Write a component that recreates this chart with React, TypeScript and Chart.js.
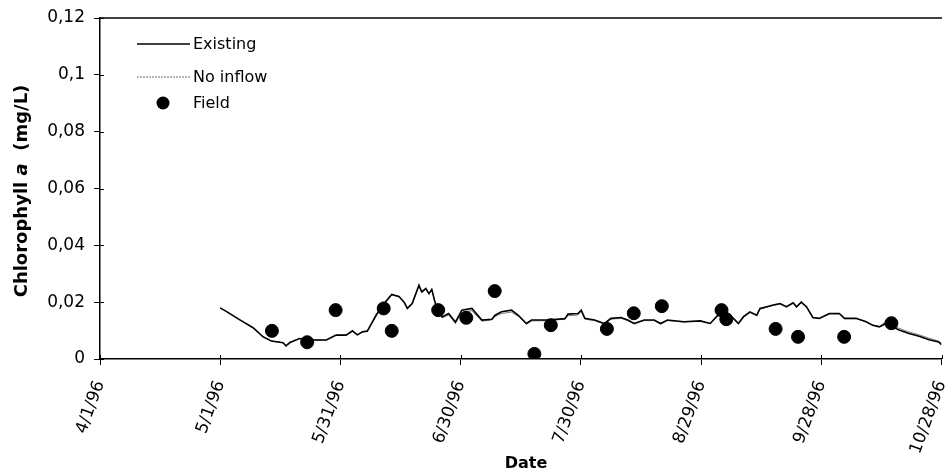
import { useEffect, useRef } from 'react';
import { Chart, registerables } from 'chart.js';

Chart.register(...registerables);

// ---- data ----
const xTickLabels = ['4/1/96', '5/1/96', '5/31/96', '6/30/96', '7/30/96', '8/29/96', '9/28/96', '10/28/96'];
const yTickLabels = ['0', '0,02', '0,04', '0,06', '0,08', '0,1', '0,12'];

// days since 4/1/96
const lineDays = [
  30, 31.7, 35, 38.2, 40.7, 42.8, 45.7, 46.4, 47.4, 49.8, 53.1, 56.5, 58.9, 61.4, 63, 64.2,
  65.5, 66.7, 68.9, 70.9, 72.8, 74.6, 75.9, 76.7, 77.9, 79.6, 80.3, 81.3, 82.1, 82.8, 83.7,
  85.4, 87, 88.7, 90.3, 92.8, 95.3, 97.8, 98.6, 100.2, 102.7, 104.4, 106.4, 107.7, 111.8,
  116, 116.8, 119.3, 120.1, 121, 123.4, 125.9, 127.5, 130, 131.7, 133.3, 135.8, 138.3,
  139.9, 141.6, 145.7, 149.8, 152.3, 153.9, 155.6, 158.1, 159.3, 160.6, 162.2, 163.9,
  164.7, 166.4, 168, 169.7, 171.3, 173, 173.8, 175, 176.3, 177.9, 179.5, 182, 184.5,
  185.8, 188.7, 191.2, 192.8, 194.5, 196.1, 197.8, 199.4, 201.9, 204.4, 206.9, 209.3, 210,
];

const existing = [
  0.018, 0.0166, 0.0137, 0.011, 0.0078, 0.0063, 0.0057, 0.0046, 0.0058, 0.0072, 0.0067, 0.0067, 0.0084, 0.0084, 0.0099, 0.0085,
  0.0096, 0.0098, 0.0154, 0.0195, 0.0227, 0.022, 0.02, 0.0178, 0.0195, 0.026, 0.0236, 0.0248, 0.023, 0.0245, 0.0195,
  0.0148, 0.016, 0.013, 0.0172, 0.0178, 0.0137, 0.014, 0.0154, 0.0166, 0.0172, 0.0154, 0.0125, 0.0137, 0.0137,
  0.0142, 0.0158, 0.016, 0.0172, 0.0143, 0.0137, 0.0125, 0.0143, 0.0146, 0.0137, 0.0125, 0.0137, 0.0137,
  0.0125, 0.0137, 0.0131, 0.0134, 0.0125, 0.015, 0.0166, 0.0143, 0.0125, 0.0149, 0.0166, 0.0154,
  0.0178, 0.0184, 0.019, 0.0195, 0.0184, 0.0198, 0.0184, 0.02, 0.0184, 0.0146, 0.0143, 0.016, 0.016,
  0.0143, 0.0143, 0.0131, 0.0119, 0.0113, 0.0125, 0.0113, 0.0102, 0.009, 0.008, 0.0068, 0.006, 0.005,
];

const noInflow = [
  0.018, 0.0166, 0.0137, 0.011, 0.0078, 0.0063, 0.0057, 0.0047, 0.0058, 0.0072, 0.0067, 0.0067, 0.0083, 0.0084, 0.0097, 0.0085,
  0.0095, 0.0098, 0.0152, 0.0193, 0.0225, 0.0219, 0.0199, 0.0177, 0.0193, 0.0257, 0.0234, 0.0246, 0.0228, 0.0243, 0.0193,
  0.0145, 0.0155, 0.0125, 0.0165, 0.017, 0.0133, 0.0138, 0.015, 0.016, 0.0165, 0.015, 0.0122, 0.0134, 0.0135,
  0.014, 0.0152, 0.0155, 0.0168, 0.014, 0.0135, 0.0123, 0.014, 0.0143, 0.0135, 0.0123, 0.0135, 0.0135,
  0.0123, 0.0135, 0.013, 0.0133, 0.0124, 0.0148, 0.0163, 0.0141, 0.0124, 0.0147, 0.0163, 0.0152,
  0.0175, 0.0182, 0.0188, 0.0193, 0.0182, 0.0196, 0.0182, 0.0198, 0.0182, 0.0145, 0.0142, 0.0158, 0.0158,
  0.0142, 0.0142, 0.0131, 0.012, 0.0115, 0.013, 0.0118, 0.0108, 0.0095, 0.0085, 0.0073, 0.0063, 0.0055,
];

const fieldDays = [42.9, 51.7, 58.8, 70.8, 72.8, 84.4, 91.4, 98.5, 108.4, 112.5, 126.5, 133.2, 140.2, 155.1, 156.3, 168.6, 174.2, 185.7, 197.5];
const fieldValues = [0.0099, 0.0059, 0.0172, 0.0178, 0.0099, 0.0172, 0.0145, 0.0239, 0.0018, 0.0119, 0.0106, 0.0161, 0.0186, 0.0172, 0.014, 0.0106, 0.0078, 0.0078, 0.0126];

const seriesNames = ['Existing', 'No inflow', 'Field'];

const FONT = '"DejaVu Sans", sans-serif';

export default function App() {
  const ref = useRef<HTMLCanvasElement>(null);

  useEffect(() => {
    const canvas = ref.current;
    if (!canvas) return;

    const decor = {
      id: 'decor',
      afterDraw(chart: any) {
        const { ctx, chartArea: a, scales } = chart;
        ctx.save();
        ctx.strokeStyle = '#000';
        // top border
        ctx.lineWidth = 1.5;
        ctx.beginPath();
        ctx.moveTo(a.left, a.top);
        ctx.lineTo(a.right + 0.5, a.top);
        ctx.stroke();
        // inner tick marks
        ctx.lineWidth = 1;
        const xs = scales.x;
        xs.ticks.forEach((t: any) => {
          const px = Math.round(xs.getPixelForValue(t.value)) + 0.5;
          ctx.beginPath();
          ctx.moveTo(px, a.bottom);
          ctx.lineTo(px, a.bottom - 4);
          ctx.stroke();
        });
        const ys = scales.y;
        ys.ticks.forEach((t: any) => {
          const py = Math.round(ys.getPixelForValue(t.value)) + 0.5;
          ctx.beginPath();
          ctx.moveTo(a.left, py);
          ctx.lineTo(a.left + 4, py);
          ctx.stroke();
        });

        // legend
        const lx0 = 137, lx1 = 190, tx = 193;
        const rows = [44, 77, 103];
        ctx.font = `16px ${FONT}`;
        ctx.fillStyle = '#000';
        ctx.textBaseline = 'middle';
        ctx.textAlign = 'left';
        ctx.strokeStyle = '#000';
        ctx.lineWidth = 1.6;
        ctx.beginPath();
        ctx.moveTo(lx0, rows[0]);
        ctx.lineTo(lx1, rows[0]);
        ctx.stroke();
        ctx.strokeStyle = '#6e6e6e';
        ctx.lineWidth = 1.2;
        ctx.setLineDash([2, 1]);
        ctx.beginPath();
        ctx.moveTo(lx0, rows[1]);
        ctx.lineTo(lx1, rows[1]);
        ctx.stroke();
        ctx.setLineDash([]);
        ctx.beginPath();
        ctx.arc(163, rows[2], 6.5, 0, Math.PI * 2);
        ctx.fill();
        seriesNames.forEach((n, i) => ctx.fillText(n, tx, rows[i] + 1));

        // x title
        ctx.font = `bold 16px ${FONT}`;
        ctx.textAlign = 'center';
        ctx.fillText('Date', 526, 464);

        // y title
        ctx.translate(22, 191);
        ctx.rotate(-Math.PI / 2);
        const parts = [
          { t: 'Chlorophyll ', f: `bold 18px ${FONT}` },
          { t: 'a', f: `italic bold 18px ${FONT}` },
          { t: '  (mg/L)', f: `bold 18px ${FONT}` },
        ];
        let total = 0;
        parts.forEach((p) => { ctx.font = p.f; total += ctx.measureText(p.t).width; });
        let x = -total / 2;
        ctx.textAlign = 'left';
        parts.forEach((p) => {
          ctx.font = p.f;
          ctx.fillText(p.t, x, 0);
          x += ctx.measureText(p.t).width;
        });
        ctx.restore();
      },
    };

    const chart = new Chart(canvas, {
      type: 'scatter',
      data: {
        datasets: [
          {
            label: seriesNames[2],
            data: fieldDays.map((d, i) => ({ x: d, y: fieldValues[i] })),
            backgroundColor: '#000',
            borderColor: '#000',
            pointRadius: 6.5,
            showLine: false,
            order: 0,
          },
          {
            label: seriesNames[0],
            data: lineDays.map((d, i) => ({ x: d, y: existing[i] })),
            borderColor: '#000',
            borderWidth: 1.6,
            pointRadius: 0,
            showLine: true,
            order: 1,
          },
          {
            label: seriesNames[1],
            data: lineDays.map((d, i) => ({ x: d, y: noInflow[i] })),
            borderColor: '#7a7a7a',
            borderWidth: 1,
            pointRadius: 0,
            showLine: true,
            order: 2,
          },
        ],
      },
      options: {
        responsive: false,
        animation: false,
        layout: { padding: { top: 18, right: 4, left: 0, bottom: 0 } },
        plugins: { legend: { display: false }, tooltip: { enabled: false } },
        scales: {
          x: {
            type: 'linear',
            min: 0,
            max: 210,
            afterFit: (s: any) => { s.height = 114; s.paddingLeft = 0; s.paddingRight = 0; },
            afterBuildTicks: (s: any) => { s.ticks = xTickLabels.map((_, i) => ({ value: i * 30 })); },
            ticks: {
              autoSkip: false,
              maxRotation: 70,
              minRotation: 70,
              padding: 13,
              color: '#000',
              font: { family: FONT, size: 17 },
              callback: (v: any) => xTickLabels[Math.round(Number(v) / 30)],
            },
            grid: { drawOnChartArea: false, drawTicks: true, tickLength: 6, color: '#000', lineWidth: 1 },
            border: { color: '#000', width: 1.5 },
          },
          y: {
            min: 0,
            max: 0.12,
            afterFit: (s: any) => { s.width = 100; s.paddingTop = 0; s.paddingBottom = 0; },
            afterBuildTicks: (s: any) => { s.ticks = yTickLabels.map((_, i) => ({ value: i * 0.02 })); },
            ticks: {
              padding: 9,
              color: '#000',
              font: { family: FONT, size: 17 },
              callback: (v: any) => yTickLabels[Math.round(Number(v) / 0.02)],
            },
            grid: { drawOnChartArea: false, drawTicks: true, tickLength: 6, color: '#000', lineWidth: 1 },
            border: { color: '#000', width: 1.5 },
          },
        },
      },
      plugins: [decor],
    });

    return () => chart.destroy();
  }, []);

  return (
    <div style={{ position: 'fixed', left: 0, top: 0, width: 949, height: 473, background: '#fff' }}>
      <canvas ref={ref} width={949} height={473} style={{ display: 'block', width: 949, height: 473 }} />
    </div>
  );
}
